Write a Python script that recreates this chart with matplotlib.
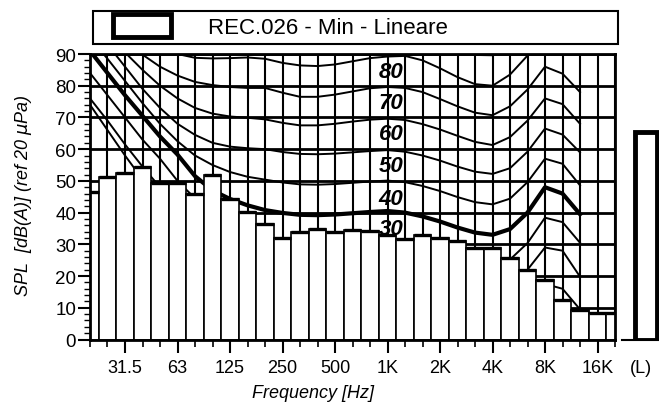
import numpy as np
import matplotlib.pyplot as plt
from matplotlib.patches import Rectangle

plt.rcParams['font.family'] = ['Liberation Sans', 'DejaVu Sans']

# third-octave bands, 20 Hz .. 20 kHz
bands = ['20', '25', '31.5', '40', '50', '63', '80', '100', '125', '160', '200',
         '250', '315', '400', '500', '630', '800', '1K', '1.25K', '1.6K', '2K',
         '2.5K', '3.15K', '4K', '5K', '6.3K', '8K', '10K', '12.5K', '16K', '20K']
tick_labels = ['31.5', '63', '125', '250', '500', '1K', '2K', '4K', '8K', '16K']

spl_min = [46.5, 51.3, 52.6, 54.3, 49.2, 49.3, 46.0, 51.7, 44.2, 40.1, 36.4,
           32.0, 34.0, 34.7, 33.8, 34.5, 34.2, 32.8, 31.8, 32.9, 32.0,
           31.1, 29.0, 29.0, 25.6, 21.8, 18.8, 12.6, 9.4, 8.5, 8.5]
level_total = 65.5

# loudness contours, values at bands 20 Hz .. 12.5 kHz
c0 = [74, 66, 58, 50.5, 43.5, 37, 31, 26, 22, 19.5, 12.0, 11.1, 10.5, 10.4, 10.6,
      11.0, 11.4, 11.7, 11.2, 10.0, 8.4, 6.5, 4.9, 4.2, 6.0, 11.2, 17.5, 16.0, 9.5]
c10 = [76, 69, 61.5, 54.5, 48, 42, 36.5, 32, 28.5, 26, 21.6, 20.7, 20.1, 20.0, 20.2,
       20.6, 21.0, 21.3, 20.8, 19.6, 18.0, 16.1, 14.5, 13.8, 16.5, 22.0, 29.0, 28.0, 19.8]
c20 = [84, 77, 70, 63, 57, 50, 44.5, 40, 36.5, 34, 31.2, 30.3, 29.7, 29.6, 29.8,
       30.2, 30.6, 30.9, 30.4, 29.2, 27.6, 25.7, 24.1, 23.4, 25.2, 30.4, 38.4, 37.0, 30.5]
c30 = [91, 84, 77, 70.5, 64, 58.3, 51.5, 47, 44.3, 42.3, 40.8, 39.9, 39.3, 39.2, 39.4,
       39.8, 40.2, 40.5, 40.0, 38.8, 37.2, 35.3, 33.7, 33.0, 34.8, 40.0, 48.0, 46.0, 39.5]
c40 = [95, 88.5, 81.5, 74.5, 68, 62.5, 58, 55, 52.8, 51.3, 50.4, 49.5, 48.9, 48.8, 49.0,
       49.4, 49.8, 50.1, 49.6, 48.4, 46.8, 44.9, 43.3, 42.6, 44.4, 49.6, 57.0, 55.4, 48.6]
c50 = [100, 93, 86, 79, 73, 68, 64.5, 62, 60.8, 60.3, 60.0, 59.1, 58.5, 58.4, 58.6,
       59.0, 59.4, 59.7, 59.2, 58.0, 56.4, 54.5, 52.9, 52.2, 54.0, 59.2, 66.5, 64.6, 59.0]
c60 = [105, 96, 90.5, 85, 80, 76, 73, 71.2, 70.3, 69.9, 69.4, 68.3, 67.5, 67.5, 68.0,
       68.7, 69.3, 69.6, 69.2, 67.9, 66.2, 64.2, 62.3, 61.3, 63.8, 69.0, 76.0, 74.2, 68.0]
c70 = [110, 100, 94, 89.8, 86, 83.2, 81.2, 80.2, 79.6, 79.3, 79.3, 77.8, 76.5, 76.5, 77.2,
       78.2, 79.2, 79.6, 79.3, 78.0, 75.8, 73.5, 71.5, 70.7, 73.5, 78.8, 86.0, 83.8, 78.0]
c80 = [120, 110, 100, 96, 92, 90, 88.8, 88.6, 88.7, 88.9, 88.5, 87.2, 86.4, 86.2, 86.7,
       87.7, 88.7, 89.2, 89.4, 88.0, 85.5, 82.7, 80.5, 80.0, 83.5, 89.5, 96, 95, 93]
c90 = [np.nan] * 21 + [92.4, 89.7, 89.6, 93.0] + [np.nan] * 4

contours = [c0, c10, c20, c30, c40, c50, c60, c70, c80, c90]
contour_names = ['30', '40', '50', '60', '70', '80']
label_y = [35.0, 44.4, 54.7, 64.8, 74.6, 84.4]

fig = plt.figure(figsize=(6.59, 4.06), dpi=100)
ax = fig.add_axes([90 / 659, 65.5 / 406, 525 / 659, 285.5 / 406])

x = np.arange(len(bands))
xc = np.arange(len(c30))

for c in contours:
    lw = 3.0 if c is c30 else 1.4
    ax.plot(xc, c, color='black', lw=lw, zorder=1.5)

ax.bar(x, spl_min, width=1.0, color='white', edgecolor='black', lw=1.2, zorder=2)
ax.hlines(spl_min, x - 0.5, x + 0.5, colors='black', lw=2.4, zorder=2.2)

for name, yy in zip(contour_names, label_y):
    ax.text(17.2, yy, name, fontsize=16, fontweight='bold', fontstyle='italic',
            ha='center', va='center', zorder=3)

ax.set_xlim(0, 30)
ax.set_ylim(0, 90)

major_idx = [bands.index(t) for t in tick_labels]
ax.set_xticks(major_idx)
ax.set_xticklabels(tick_labels, fontsize=13)
ax.set_xticks([i for i in x if i not in major_idx], minor=True)
ax.set_yticks(np.arange(0, 91, 10))
ax.set_yticks(np.arange(0, 91, 2), minor=True)
ax.tick_params(axis='y', which='major', labelsize=13.5, length=9, width=1.5, pad=1)
ax.tick_params(axis='y', which='minor', length=4, width=1)
ax.tick_params(axis='x', which='major', length=9, width=1.5, pad=5)
ax.tick_params(axis='x', which='minor', length=5, width=1.2)

ax.set_axisbelow(True)
ax.grid(True, which='major', axis='y', color='black', lw=2.0)
ax.grid(True, which='both', axis='x', color='black', lw=1.5)
for s in ax.spines.values():
    s.set_linewidth(2)

fig.text(23 / 659, (406 - 196) / 406, r'SPL  [dB(A)] (ref 20 $\mu$Pa)', rotation=90,
         fontsize=13, fontstyle='italic', ha='center', va='center')
fig.text(313 / 659, (406 - 394) / 406, 'Frequency [Hz]', fontsize=13,
         fontstyle='italic', ha='center', va='center')

# overall level bar
ax2 = fig.add_axes([622 / 659, 65.5 / 406, 37 / 659, 285.5 / 406])
ax2.bar([0.65], [level_total], width=0.59, color='white', edgecolor='black', lw=3.5)
ax2.set_xlim(0, 1)
ax2.set_ylim(0, 90)
ax2.set_yticks([])
ax2.set_xticks([0.52])
ax2.set_xticklabels(['(L)'], fontsize=13)
ax2.tick_params(axis='x', length=0, pad=14)
for side in ['top', 'right', 'left']:
    ax2.spines[side].set_visible(False)
ax2.spines['bottom'].set_linewidth(1.5)
ax2.patch.set_alpha(0)

# legend box
fig.add_artist(Rectangle((93 / 659, 361 / 406), 525 / 659, 33 / 406, transform=fig.transFigure,
                         fill=False, ec='black', lw=1.5))
fig.add_artist(Rectangle((113 / 659, 368 / 406), 58 / 659, 23 / 406, transform=fig.transFigure,
                         fc='white', ec='black', lw=3.5))
fig.text(208 / 659, (406 - 28) / 406, 'REC.026 - Min - Lineare', fontsize=16, va='center')

fig.savefig('out.png', dpi=100)
